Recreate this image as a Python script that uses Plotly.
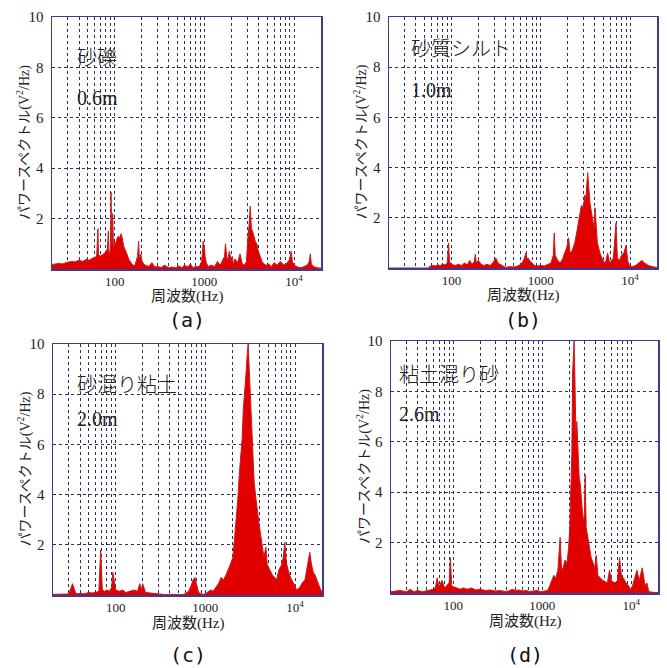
import plotly.graph_objects as go

# ---------------- data ----------------
FREQ_A = [20, 22, 24, 26, 28, 30, 33, 36, 40, 44,
          48, 52, 56, 60, 63, 65, 66, 68, 72, 76,
          80, 83, 85, 86, 88, 90, 91, 92, 93, 95,
          96, 97, 100, 103, 106, 110, 114, 118, 122, 126,
          130, 135, 140, 145, 150, 155, 160, 165, 170, 175,
          180, 185, 188, 192, 196, 200, 210, 220, 240, 260,
          280, 300, 330, 360, 400, 440, 480, 520, 560, 600,
          650, 700, 750, 800, 850, 900, 930, 950, 970, 985,
          1000, 1020, 1050, 1100, 1200, 1300, 1400, 1500, 1600, 1680,
          1720, 1760, 1800, 1900, 2000, 2050, 2100, 2200, 2350, 2500,
          2650, 2800, 2950, 3050, 3150, 3250, 3300, 3350, 3450, 3550,
          3700, 3850, 4000, 4200, 4400, 4600, 4900, 5200, 5600, 6000,
          6500, 7000, 7500, 8000, 8500, 9000, 9300, 9600, 10000, 10500,
          11000, 12000, 13000, 14000, 14800, 15200, 15600, 16500, 18000, 20000]
PSD_A = [0.18, 0.2, 0.22, 0.2, 0.25, 0.27, 0.3, 0.28, 0.35, 0.3,
         0.38, 0.35, 0.42, 0.45, 0.5, 1.6, 0.6, 0.5, 0.55, 0.6,
         0.7, 0.8, 1.5, 0.7, 0.6, 0.9, 3.05, 1.0, 0.9, 2.2,
         1.0, 0.8, 1.1, 1.0, 1.2, 1.3, 1.25, 1.4, 1.2, 0.9,
         0.8, 0.6, 0.5, 0.35, 0.3, 0.2, 0.15, 0.12, 0.2, 0.35,
         0.5, 1.1, 0.5, 0.45, 0.6, 0.35, 0.2, 0.15, 0.1, 0.25,
         0.08, 0.1, 0.06, 0.15, 0.05, 0.08, 0.05, 0.12, 0.05, 0.15,
         0.08, 0.2, 0.05, 0.1, 0.08, 0.15, 0.3, 0.6, 1.1, 0.7,
         0.9, 0.5, 0.25, 0.1, 0.15, 0.1, 0.3, 0.15, 0.35, 0.5,
         1.0, 0.4, 0.3, 0.7, 0.3, 0.5, 0.2, 0.4, 0.25, 0.6,
         0.2, 0.15, 0.3, 1.2, 1.7, 2.5, 1.75, 1.6, 1.5, 1.3,
         1.1, 1.0, 0.7, 0.5, 0.3, 0.2, 0.15, 0.2, 0.1, 0.25,
         0.15, 0.3, 0.2, 0.15, 0.3, 0.4, 0.7, 0.3, 0.15, 0.1,
         0.08, 0.05, 0.1, 0.15, 0.3, 0.6, 0.2, 0.1, 0.05, 0.03]

FREQ_B = [20, 55, 58, 62, 66, 70, 75, 80, 85, 90,
          93, 95, 100, 110, 120, 130, 140, 150, 160, 170,
          180, 185, 190, 200, 215, 230, 250, 270, 290, 300,
          315, 330, 350, 380, 400, 450, 500, 550, 600, 640,
          660, 683, 700, 720, 750, 800, 850, 900, 1000, 1100,
          1200, 1300, 1380, 1416, 1450, 1550, 1650, 1750, 1850, 1950,
          2050, 2120, 2250, 2400, 2550, 2700, 2850, 3000, 3100, 3200,
          3300, 3350, 3450, 3550, 3700, 3800, 3950, 4050, 4300, 4600,
          4950, 5300, 5600, 5900, 6200, 6500, 6950, 7200, 7600, 8000,
          8500, 9000, 9400, 9800, 10500, 11500, 12500, 13500, 14500, 16000,
          18000, 20000]
PSD_B = [0, 0, 0.08, 0.1, 0.08, 0.12, 0.1, 0.15, 0.12, 0.2,
         1.0, 0.25, 0.15, 0.1, 0.15, 0.1, 0.2, 0.12, 0.3, 0.15,
         0.25, 0.55, 0.2, 0.3, 0.15, 0.1, 0.15, 0.1, 0.2, 0.3,
         0.4, 0.2, 0.15, 0.08, 0.03, 0.05, 0.04, 0.08, 0.15, 0.3,
         0.45, 0.6, 0.35, 0.4, 0.3, 0.2, 0.1, 0.08, 0.1, 0.08,
         0.15, 0.2, 0.5, 1.4, 0.5, 0.3, 0.2, 0.35, 0.6, 0.8,
         1.2, 0.6, 0.7, 1.0, 1.5, 2.1, 2.5, 2.4, 2.9, 2.8,
         3.5, 3.8, 3.2, 2.6, 2.2, 2.0, 1.6, 2.4, 1.0, 0.6,
         0.3, 0.2, 0.6, 0.2, 0.3, 0.4, 1.8, 0.4, 0.3, 0.5,
         0.6, 0.9, 0.3, 0.1, 0.05, 0.1, 0.2, 0.3, 0.2, 0.1,
         0.05, 0.02]

FREQ_C = [20, 25, 30, 33, 36, 40, 45, 50, 55, 60,
          65, 68, 71, 75, 80, 85, 90, 93, 100, 110,
          120, 130, 145, 160, 175, 186, 193, 200, 215, 240,
          270, 300, 350, 400, 450, 500, 550, 600, 650, 700,
          730, 764, 800, 840, 900, 950, 1000, 1050, 1100, 1150,
          1220, 1300, 1400, 1500, 1590, 1700, 1800, 1890, 2030, 2120,
          2210, 2300, 2400, 2500, 2570, 2650, 2750, 2840, 2920, 3000,
          3070, 3140, 3220, 3300, 3400, 3500, 3650, 3800, 3950, 4100,
          4300, 4500, 4730, 4900, 5240, 5600, 6220, 6600, 7080, 7400,
          7700, 8000, 8380, 8900, 9530, 10400, 11300, 12100, 12900, 13800,
          14600, 15300, 16000, 16700, 17800, 18900, 20000]
PSD_C = [0.03, 0.05, 0.04, 0.45, 0.05, 0.06, 0.05, 0.1, 0.08, 0.1,
         0.15, 1.8, 0.2, 0.15, 0.2, 0.15, 0.3, 0.9, 0.2, 0.15,
         0.2, 0.1, 0.15, 0.2, 0.15, 0.45, 0.2, 0.45, 0.1, 0.08,
         0.05, 0.03, 0.02, 0.03, 0.02, 0.03, 0.02, 0.05, 0.15, 0.4,
         0.6, 0.7, 0.4, 0.1, 0.05, 0.03, 0.05, 0.1, 0.15, 0.2,
         0.15, 0.3, 0.45, 0.7, 0.6, 0.8, 1.0, 1.2, 1.5, 2.2,
         3.0, 3.8, 4.9, 5.8, 6.2, 7.4, 8.0, 8.8, 9.5, 10.0,
         9.2, 8.4, 7.2, 6.3, 5.4, 4.5, 3.9, 3.3, 2.9, 2.5,
         2.0, 1.5, 1.9, 1.2, 1.0, 0.8, 0.6, 1.0, 1.2, 1.5,
         2.1, 1.3, 1.0, 0.7, 0.5, 0.2, 0.3, 0.5, 0.6, 1.3,
         1.7, 1.2, 0.9, 0.8, 0.5, 0.3, 0.1]

FREQ_D = [20, 25, 30, 33, 36, 40, 45, 50, 55, 60,
          63, 66, 69, 75, 80, 85, 90, 93, 96, 100,
          110, 120, 130, 145, 160, 180, 200, 230, 260, 300,
          340, 380, 420, 460, 500, 550, 600, 660, 720, 800,
          880, 960, 1050, 1150, 1220, 1280, 1350, 1420, 1500, 1590,
          1650, 1720, 1800, 1900, 1980, 2040, 2100, 2150, 2200, 2250,
          2280, 2330, 2390, 2450, 2520, 2600, 2680, 2780, 2890, 2980,
          3040, 3120, 3260, 3400, 3550, 3720, 3900, 4050, 4220, 4500,
          4800, 5100, 5400, 5700, 6000, 6200, 6600, 7000, 7400, 7800,
          8200, 8700, 9300, 10000, 10800, 11600, 12300, 13300, 14300, 15000,
          15800, 17000, 18500, 20000]
PSD_D = [0.05, 0.1, 0.05, 0.15, 0.05, 0.1, 0.05, 0.08, 0.1, 0.15,
         0.2, 0.6, 0.25, 0.5, 0.2, 0.3, 0.4, 1.4, 0.3, 0.25,
         0.2, 0.15, 0.2, 0.15, 0.2, 0.12, 0.15, 0.1, 0.12, 0.08,
         0.1, 0.06, 0.08, 0.15, 0.1, 0.12, 0.08, 0.1, 0.06, 0.08,
         0.1, 0.05, 0.08, 0.1, 0.3, 0.5, 0.7, 0.6, 0.9, 2.2,
         0.9, 1.0, 1.3, 1.2, 1.8, 2.6, 3.9, 5.5, 8.8, 9.6,
         10.0, 8.5, 6.3, 6.8, 5.4, 4.6, 4.3, 3.5, 2.8, 3.2,
         4.7, 2.6, 2.2, 1.8, 1.4, 1.2, 1.0, 1.5, 0.7, 0.6,
         0.5, 0.45, 0.4, 0.9, 0.5, 0.45, 0.4, 0.5, 1.4, 0.6,
         0.6, 0.4, 0.3, 0.1, 0.5, 0.9, 0.5, 1.0, 0.3, 0.4,
         0.05, 0.03, 0.02, 0.02]

SOIL_NAMES = ["砂礫", "砂質シルト", "砂混り粘土", "粘土混り砂"]
DEPTHS = ["0.6m", "1.0m", "2.0m", "2.6m"]
PANEL_LABELS = ["(a)", "(b)", "(c)", "(d)"]
X_TITLE = "周波数(Hz)"
Y_TITLE = "パワースペクトル(V<sup>2</sup>/Hz)"
Y_TICKS = [2, 4, 6, 8, 10]
X_TICKS = [100, 1000, 10000]
X_TICK_TEXT = ["100", "1000", "10<sup>4</sup>"]

# ---------------- layout geometry (pixels in a 667x668 canvas) ----------------
W, H = 667, 668
BOXES = [(52, 321, 17, 269), (389, 657, 17, 268),
         (53, 322, 344, 595), (391, 658, 341, 593)]
NAME_POS = [(75, 57), (409, 47), (75, 383), (397, 373)]
DEPTH_POS = [(75, 98), (409, 90), (75, 419), (397, 414)]
LABEL_Y = [320, 320, 655, 655]

data = [(FREQ_A, PSD_A), (FREQ_B, PSD_B), (FREQ_C, PSD_C), (FREQ_D, PSD_D)]

minor_vals = []
for dec in (10, 100, 1000, 10000):
    for m in range(2, 10):
        v = dec * m
        if 20 <= v <= 20000:
            minor_vals.append(v)

SERIF = "Liberation Serif, Noto Sans CJK JP, serif"
CJK = "Noto Sans CJK JP, sans-serif"
BORDER = "#3b3b8f"
GRID = "#2e2e5e"
RED = "#e00000"

fig = go.Figure()
annotations = []
layout = dict(width=W, height=H, autosize=False,
              margin=dict(l=0, r=0, t=0, b=0, autoexpand=False),
              paper_bgcolor="white", plot_bgcolor="white",
              showlegend=False)

for i, ((fx, py), (l, r, t, b)) in enumerate(zip(data, BOXES)):
    n = "" if i == 0 else str(i + 1)
    fig.add_trace(go.Scatter(
        x=fx, y=py, mode="lines", fill="tozeroy",
        line=dict(color="#d01818", width=1), fillcolor=RED,
        xaxis="x" + n, yaxis="y" + n, hoverinfo="skip"))
    layout["xaxis" + n] = dict(
        domain=[l / W, r / W], anchor="y" + n, type="log", automargin=False,
        range=[1.301, 4.301], tickvals=X_TICKS, ticktext=X_TICK_TEXT,
        showgrid=True, gridcolor=GRID, griddash="dot", gridwidth=1,
        minor=dict(tickvals=minor_vals, showgrid=True, gridcolor=GRID,
                   griddash="dot", gridwidth=1, ticks=""),
        showline=True, mirror=True, linecolor=BORDER, linewidth=1.5,
        ticks="", zeroline=False,
        tickfont=dict(family=SERIF, size=13, color="#222"))
    layout["yaxis" + n] = dict(
        domain=[1 - b / H, 1 - t / H], anchor="x" + n, automargin=False,
        range=[0, 10], tickvals=Y_TICKS,
        showgrid=True, gridcolor=GRID, griddash="dot", gridwidth=1,
        showline=True, mirror=True, linecolor=BORDER, linewidth=1.5,
        ticks="", zeroline=False, ticklabelstandoff=4,
        tickfont=dict(family=SERIF, size=15, color="#222"))

    cx = (l + r) / 2
    annotations.append(dict(x=cx / W, y=1 - (b + 28) / H, xref="paper", yref="paper",
                            text=X_TITLE, showarrow=False, xanchor="center", yanchor="middle",
                            font=dict(family=SERIF, size=15, color="#222")))
    annotations.append(dict(x=(l - 28) / W, y=1 - ((t + b) / 2) / H, xref="paper", yref="paper",
                            text=Y_TITLE, showarrow=False, textangle=-90,
                            xanchor="center", yanchor="middle",
                            font=dict(family=SERIF, size=14, color="#222")))
    annotations.append(dict(x=cx / W, y=1 - LABEL_Y[i] / H,
                            xref="paper", yref="paper",
                            text=PANEL_LABELS[i], showarrow=False,
                            xanchor="center", yanchor="middle",
                            font=dict(family="DejaVu Sans Mono, monospace", size=20, color="#111")))
    nx, ny = NAME_POS[i]
    annotations.append(dict(x=nx / W, y=1 - ny / H, xref="paper", yref="paper",
                            text=SOIL_NAMES[i], showarrow=False, xanchor="left", yanchor="middle",
                            font=dict(family=CJK, size=20, color="#222", weight=300)))
    dx, dy = DEPTH_POS[i]
    annotations.append(dict(x=dx / W, y=1 - dy / H, xref="paper", yref="paper",
                            text=DEPTHS[i], showarrow=False, xanchor="left", yanchor="middle",
                            font=dict(family=SERIF, size=20, color="#222")))

layout["annotations"] = annotations
fig.update_layout(**layout)
fig.write_html("out.html",
               config={"displayModeBar": False, "staticPlot": True},
               post_script="document.body.style.margin='0';document.body.style.padding='0';"
                           "document.body.style.overflow='hidden';")
